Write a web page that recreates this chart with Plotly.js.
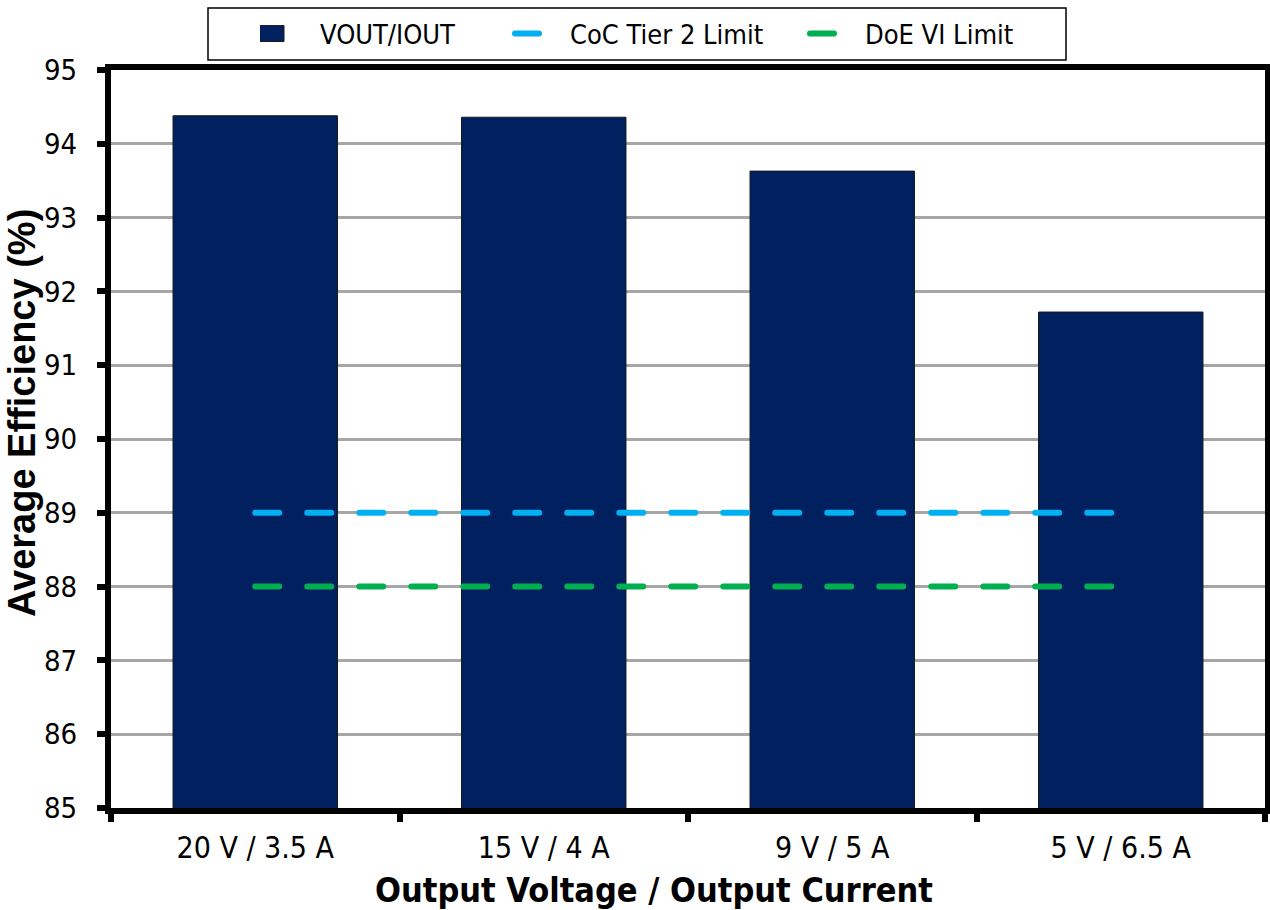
<!DOCTYPE html>
<html>
<head>
<meta charset="utf-8">
<script src="https://cdn.plot.ly/plotly-3.0.1.min.js"></script>
<style>
html,body{margin:0;padding:0;background:#fff;}
#chart{width:1270px;height:910px;}
.scatterlayer .js-line, .legendlines path {stroke-linecap: round;}
g.legendpoints path {transform-box: fill-box; transform-origin: 50% 50%; transform: scale(4, 1.33); vector-effect: non-scaling-stroke;}
</style>
</head>
<body>
<div id="chart"></div>
<script>
const categories = ["20 V / 3.5 A", "15 V / 4 A", "9 V / 5 A", "5 V / 6.5 A"];
const efficiency = [94.38, 94.36, 93.63, 91.72];
const cocTier2Limit = [89, 89, 89, 89];
const doeVILimit = [88, 88, 88, 88];
const yTicks = [85, 86, 87, 88, 89, 90, 91, 92, 93, 94, 95];
const seriesNames = ["VOUT/IOUT", "CoC Tier 2 Limit", "DoE VI Limit"];
const xTitle = "Output Voltage / Output Current";
const yTitle = "Average Efficiency (%)";

const FONT = "DejaVu Sans Condensed, DejaVu Sans, Tahoma, sans-serif";
const YFONT = "Liberation Sans, Arial, sans-serif";

// plot geometry (px) used to place paper-referenced items
const L = 111, T = 70, W = 1154, H = 738;
const px = x => (x - L) / W;
const py = y => (T + H - y) / H;

const traces = [
  {
    type: "bar", name: seriesNames[0], x: categories, y: efficiency,
    width: 0.57, legend: "legend",
    marker: {color: "#002060", line: {color: "#1a1a1a", width: 1}},
    hoverinfo: "skip"
  },
  {
    type: "scatter", mode: "lines", name: seriesNames[1], x: categories, y: cocTier2Limit,
    legend: "legend2",
    line: {color: "#00B0F0", width: 6, dash: "24px,28px"}, hoverinfo: "skip"
  },
  {
    type: "scatter", mode: "lines", name: seriesNames[2], x: categories, y: doeVILimit,
    legend: "legend3",
    line: {color: "#00B050", width: 6, dash: "24px,28px"}, hoverinfo: "skip"
  }
];

const legendBase = {
  orientation: "h", yanchor: "middle", y: py(34), xanchor: "left",
  borderwidth: 0, bgcolor: "rgba(0,0,0,0)", itemwidth: 50,
  font: {family: FONT, size: 27, color: "#000"}
};

const layout = {
  width: 1270, height: 910,
  margin: {l: L, r: 1270 - L - W, t: T, b: 910 - T - H},
  paper_bgcolor: "#fff", plot_bgcolor: "#fff",
  font: {family: FONT, color: "#000", size: 26},
  showlegend: true,
  legend: Object.assign({}, legendBase, {x: px(260)}),
  legend2: Object.assign({}, legendBase, {x: px(510)}),
  legend3: Object.assign({}, legendBase, {x: px(805)}),
  shapes: [
    {type: "rect", xref: "paper", yref: "paper",
     x0: px(208), x1: px(1066), y0: py(60), y1: py(8),
     line: {color: "#000", width: 1.5}, fillcolor: "rgba(0,0,0,0)", layer: "below"}
  ],
  annotations: [
    {text: "<b>" + xTitle + "</b>", xref: "paper", yref: "paper", x: px(654), y: py(890),
     xanchor: "center", yanchor: "middle", showarrow: false,
     font: {family: FONT, size: 34, color: "#000"}},
    {text: "<b>" + yTitle + "</b>", xref: "paper", yref: "paper", x: px(22), y: py(413),
     xanchor: "center", yanchor: "middle", showarrow: false, textangle: -90,
     font: {family: YFONT, size: 38, color: "#000"}}
  ],
  xaxis: {
    type: "category", categoryorder: "array", categoryarray: categories,
    range: [-0.5, 3.5],
    showline: true, linecolor: "#000", linewidth: 6, mirror: true,
    ticks: "outside", tickson: "boundaries", ticklen: 8, tickwidth: 6, tickcolor: "#000",
    tickfont: {family: FONT, size: 30, color: "#000"}, ticklabelstandoff: 8,
    showgrid: false, zeroline: false
  },
  yaxis: {
    range: [85, 95], tickvals: yTicks, ticktext: yTicks.map(String),
    showline: true, linecolor: "#000", linewidth: 6, mirror: true,
    ticks: "outside", ticklen: 8, tickwidth: 6, tickcolor: "#000",
    tickfont: {family: FONT, size: 29, color: "#000"}, ticklabelstandoff: 14,
    showgrid: true, gridcolor: "#A6A6A6", gridwidth: 3, zeroline: false
  }
};

Plotly.newPlot("chart", traces, layout, {displayModeBar: false, staticPlot: true});
</script>
</body>
</html>
